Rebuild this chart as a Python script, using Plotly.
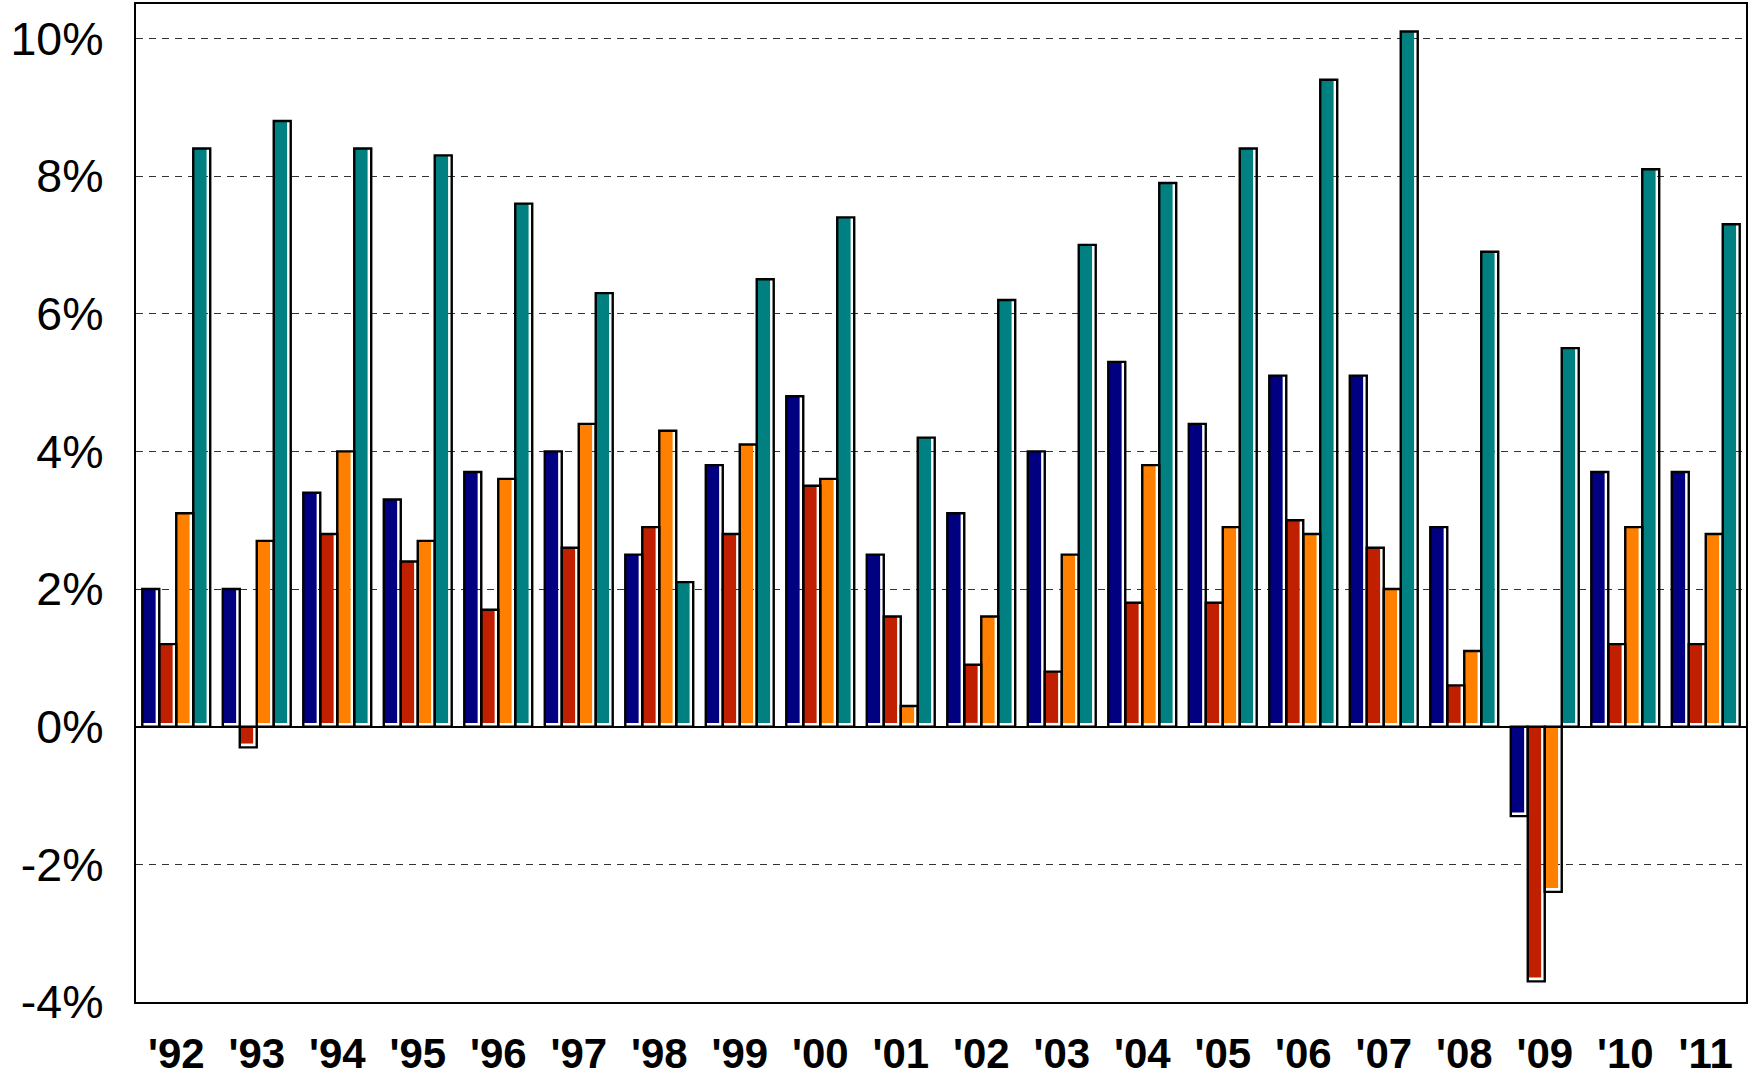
import plotly.graph_objects as go

years = ["'92", "'93", "'94", "'95", "'96", "'97", "'98", "'99", "'00", "'01",
         "'02", "'03", "'04", "'05", "'06", "'07", "'08", "'09", "'10", "'11"]
series_a = [2.0, 2.0, 3.4, 3.3, 3.7, 4.0, 2.5, 3.8, 4.8, 2.5,
            3.1, 4.0, 5.3, 4.4, 5.1, 5.1, 2.9, -1.3, 3.7, 3.7]
series_b = [1.2, -0.3, 2.8, 2.4, 1.7, 2.6, 2.9, 2.8, 3.5, 1.6,
            0.9, 0.8, 1.8, 1.8, 3.0, 2.6, 0.6, -3.7, 1.2, 1.2]
series_c = [3.1, 2.7, 4.0, 2.7, 3.6, 4.4, 4.3, 4.1, 3.6, 0.3,
            1.6, 2.5, 3.8, 2.9, 2.8, 2.0, 1.1, -2.4, 2.9, 2.8]
series_d = [8.4, 8.8, 8.4, 8.3, 7.6, 6.3, 2.1, 6.5, 7.4, 4.2,
            6.2, 7.0, 7.9, 8.4, 9.4, 10.1, 6.9, 5.5, 8.1, 7.3]
colors = ["#000080", "#C02000", "#FF8000", "#008080"]
yticks = [-4, -2, 0, 2, 4, 6, 8, 10]
ytick_text = ["-4%", "-2%", "0%", "2%", "4%", "6%", "8%", "10%"]

all_series = [series_a, series_b, series_c, series_d]
xs = list(range(len(years)))

W = 0.211          # width of one bar (category units)
group_left = -2 * W
inset_x = 0.045    # white "shadow" strip on right side (category units)
inset_y = 0.055    # white strip at bottom (percent units)

fig = go.Figure()

# coloured fills (slightly inset to the right/bottom)
for i, (vals, col) in enumerate(zip(all_series, colors)):
    bases = [inset_y if v > 0 else 0 for v in vals]
    lens = [v - inset_y if v > 0 else v + inset_y for v in vals]
    fig.add_trace(go.Bar(
        x=xs, y=lens, base=bases,
        offset=group_left + i * W, width=W - inset_x,
        marker=dict(color=col, line=dict(width=0)),
        showlegend=False, hoverinfo="skip"))

# black outlines
for i, vals in enumerate(all_series):
    fig.add_trace(go.Bar(
        x=xs, y=vals,
        offset=group_left + i * W, width=W,
        marker=dict(color="rgba(0,0,0,0)", line=dict(color="black", width=2.4)),
        showlegend=False))

fig.update_layout(
    barmode="overlay",
    width=1749, height=1072,
    margin=dict(l=136, r=3, t=4, b=70, autoexpand=False),
    paper_bgcolor="white", plot_bgcolor="white",
    font=dict(family="Arial, Liberation Sans, sans-serif", color="black"),
)
fig.update_xaxes(
    range=[-0.5, len(years) - 0.5],
    tickmode="array", tickvals=xs, ticktext=years,
    tickfont=dict(size=42, family="Arial, Liberation Sans, sans-serif", weight="bold"),
    showgrid=False, zeroline=False, automargin=False,
    showline=True, linecolor="black", linewidth=2.4, mirror=True,
    ticks="", ticklabelstandoff=13,
)
fig.update_yaxes(
    range=[-4, 10.5],
    tickmode="array", tickvals=yticks, ticktext=ytick_text,
    tickfont=dict(size=46.5), automargin=False,
    showgrid=True, gridcolor="#333333", gridwidth=1, griddash="7px,6px",
    zeroline=True, zerolinecolor="black", zerolinewidth=2,
    showline=True, linecolor="black", linewidth=2.4, mirror=True,
    ticks="", ticklabelstandoff=21,
)

fig.write_html("out.html",
               config={"displayModeBar": False},
               post_script="document.body.style.margin='0';document.body.style.overflow='hidden';")
